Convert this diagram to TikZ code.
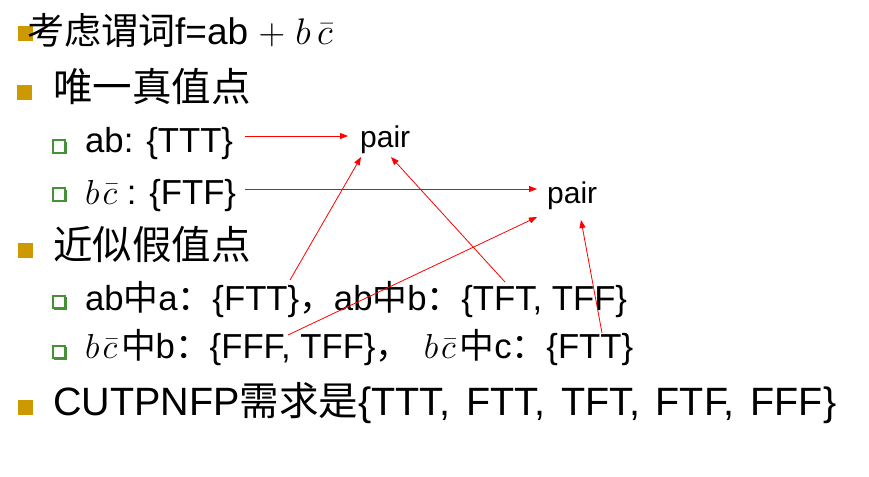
\documentclass[tikz,border=0pt]{standalone}
\usepackage{fix-cm}
\usepackage{fontspec}
\setmainfont{Liberation Sans}
\newfontfamily\cjk{Noto Sans CJK SC}
\usetikzlibrary{arrows.meta,shadows}
\definecolor{gold}{RGB}{204,153,0}
\definecolor{bgreen}{RGB}{70,145,55}
\newcommand{\bcbar}{$b\mkern1.5mu\bar{c}\mkern2mu$}
\tikzset{
  lvltop/.style={anchor=base west, inner sep=0pt, font=\fontsize{37}{44}\selectfont},
  lvlone/.style={anchor=base west, inner sep=0pt, font=\fontsize{39.5}{47}\selectfont},
  lvltwo/.style={anchor=base west, inner sep=0pt, font=\fontsize{34.7}{40}\selectfont},
  pairtext/.style={anchor=base west, inner sep=0pt, font=\fontsize{30}{36}\selectfont},
  goldsq/.style={fill=gold, minimum size=15pt, inner sep=0pt},
  greensq/.style={draw=bgreen, line width=1.6pt, fill=white, minimum size=12.5pt, inner sep=0pt,
    general shadow={fill=bgreen, shadow xshift=1.5pt, shadow yshift=-1.5pt}},
  redarrow/.style={red, line width=0.8pt, -{Triangle[length=8pt,width=6pt]}}
}
\begin{document}
\begin{tikzpicture}[x=1pt,y=-1pt]
\useasboundingbox[fill=white] (0,0) rectangle (869,476);
% bullets
\node[goldsq] (b1) at (25,33.5) {};
\node[goldsq] (b2) at (24.5,92.5) {};
\node[greensq] (b3) at (59,146.5) {};
\node[greensq] (b4) at (59,194.5) {};
\node[goldsq] (b5) at (25,250) {};
\node[greensq] (b6) at (59,302) {};
\node[greensq] (b7) at (59,352) {};
\node[goldsq] (b8) at (25,407.5) {};
% text
\node[lvltop] (t1) at (27,45) {{\cjk 考虑谓词}f=ab $+\;b\mkern3mu\bar{c}$};
\node[lvlone] (t2) at (53,102) {{\cjk 唯一真值点}};
\node[lvltwo] (t3) at (85,152) {ab: \{TTT\}};
\node[lvltwo] (t4) at (85,204) {\bcbar\,: \{FTF\}};
\node[lvlone] (t5) at (53,259) {{\cjk 近似假值点}};
\node[lvltwo] (t6) at (85,310) {ab{\cjk 中}a{\cjk ：}\{FTT\}{\cjk ，}ab{\cjk 中}b{\cjk ：}\{TFT, TFF\}};
\node[lvltwo] (t7) at (85,358) {\bcbar{\cjk 中}b{\cjk ：}\{FFF, TFF\}{\cjk ，}\kern4pt\ \bcbar{\cjk 中}c{\cjk ：}\{FTT\}};
\node[lvlone] (t8) at (53,415) {\spaceskip=0.4em CUTPNFP{\cjk 需求是}\{TTT, FTT, TFT, FTF, FFF\}};
% pair nodes
\node[pairtext] (p1) at (360,147) {pair};
\node[pairtext] (p2) at (547,203) {pair};
% connector end points
\coordinate (s1) at (245,136);
\coordinate (e1) at (348,136);
\coordinate (s2) at (245,189);
\coordinate (e2) at (537,189);
\coordinate (s3) at (290,280);
\coordinate (e3) at (361,157);
\coordinate (s4) at (505,282);
\coordinate (e4) at (391,157);
\coordinate (s5) at (288,335);
\coordinate (e5) at (537,217);
\coordinate (s6) at (602,333);
\coordinate (e6) at (581,220);
\draw[redarrow] (s1) -- (e1);
\draw[redarrow] (s2) -- (e2);
\draw[redarrow] (s3) -- (e3);
\draw[redarrow] (s4) -- (e4);
\draw[redarrow] (s5) -- (e5);
\draw[redarrow] (s6) -- (e6);
\end{tikzpicture}
\end{document}
